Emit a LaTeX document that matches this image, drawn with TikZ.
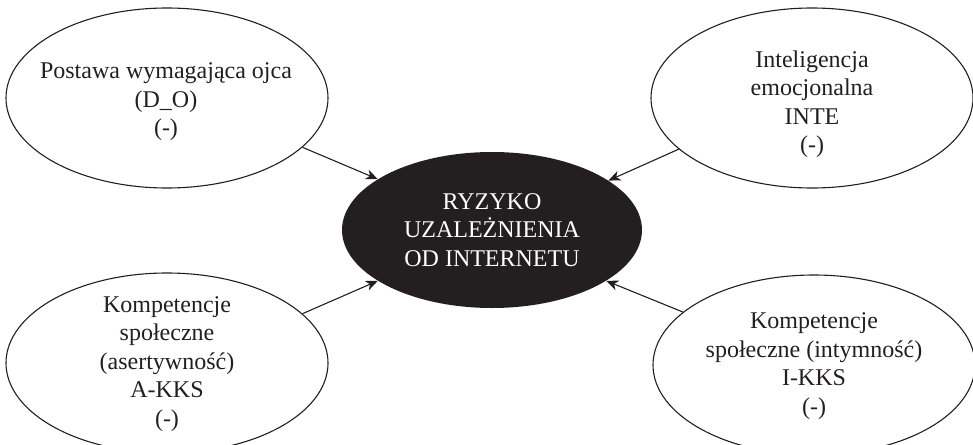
\documentclass[tikz,border=0pt]{standalone}
\usepackage{fontspec}
\setmainfont{Liberation Serif}
\usetikzlibrary{shapes.geometric,arrows.meta}
\definecolor{ink}{HTML}{231F20}
\begin{document}
\begin{tikzpicture}[x=1pt,y=-1pt,
        bubble/.style = {ellipse,draw=ink,line width=1.1pt,inner sep=0pt,
                         minimum width=322pt,minimum height=180pt},
        core/.style   = {ellipse,fill=ink,inner sep=0pt,
                         minimum width=300pt,minimum height=156pt},
        label/.style  = {align=center,text=ink,font=\fontsize{24}{28.5}\selectfont},
        arrow/.style  = {line width=1.1pt,draw=ink,-{Stealth[length=12pt,width=10pt,inset=3.5pt]}}]
    \useasboundingbox (0,0) rectangle (973,444);

    \node[core] (risk) at (492,230) {};
    \node[label,text=white] (risktxt) at (risk) {RYZYKO\\UZALEŻNIENIA\\OD INTERNETU};

    \node[bubble] (father) at (167,98) {};
    \node[label] (fathertxt) at (166,102) {Postawa wymagająca ojca\\(D\_O)\\(-)};

    \node[bubble] (emo) at (812,98) {};
    \node[label] (emotxt) at (812,104) {Inteligencja\\emocjonalna\\INTE\\(-)};

    \node[bubble] (assert) at (167,363) {};
    \node[label] (asserttxt) at (167,364) {Kompetencje\\społeczne\\(asertywność)\\A-KKS\\(-)};

    \node[bubble] (intim) at (814,365) {};
    \node[label] (intimtxt) at (814,366) {Kompetencje\\społeczne (intymność)\\I-KKS\\(-)};

    \draw[arrow] (father.-20.5) -- (risk.156.3);
    \draw[arrow] (emo.201.1)    -- (risk.23.9);
    \draw[arrow] (assert.20.7)  -- (risk.204.5);
    \draw[arrow] (intim.158.6)  -- (risk.-24.6);
\end{tikzpicture}
\end{document}
